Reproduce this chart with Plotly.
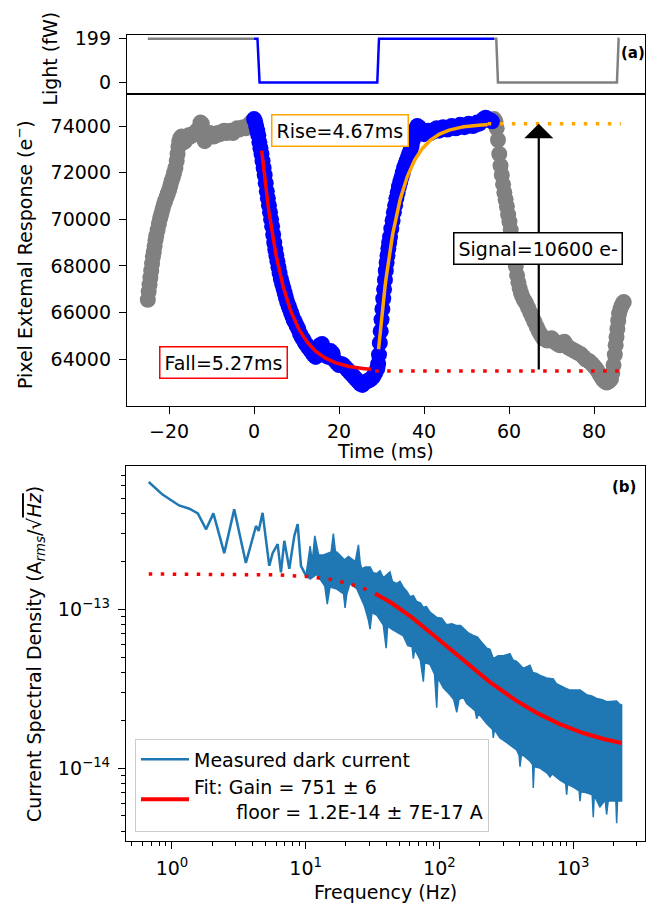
import numpy as np
import plotly.graph_objects as go

# ---------------- panel (a): light pulse ----------------
light_gray1_t = [-25.0, 0.0]
light_gray1_p = [199, 199]
light_blue_t = [0.0, 0.8, 1.3, 29.0, 29.4, 56.5]
light_blue_p = [199, 199, 0, 0, 199, 199]
light_gray2_t = [56.5, 57.0, 57.4, 85.4, 85.8, 86.0]
light_gray2_p = [199, 199, 0, 0, 199, 199]

# ---------------- panel (a): pixel response ----------------
gray_left_t = [-25.0, -24.8, -24.6, -24.4, -24.2, -24.0, -23.8, -23.6, -23.4, -23.2, -23.0,
               -22.7, -22.4, -22.1, -21.8, -21.5, -21.2, -20.9, -20.6, -20.3, -20.0, -19.7,
               -19.4, -19.1, -18.8, -18.5, -18.2, -18.0, -17.8, -17.6, -17.3, -17.0, -16.6,
               -16.2, -15.8, -15.4, -15.0, -14.5, -14.0, -13.5, -13.0, -12.6, -12.3, -12.0,
               -11.6, -11.2, -10.8, -10.4, -10.0, -9.5, -9.0, -8.5, -8.0, -7.5, -7.0, -6.5,
               -6.0, -5.5, -5.0, -4.5, -4.0, -3.5, -3.0, -2.5, -2.0, -1.5, -1.0, -0.5]
gray_left_e = [66550, 66900, 67200, 67500, 67800, 68100, 68400, 68600, 68850, 69100, 69300,
               69550, 69800, 70050, 70250, 70450, 70650, 70800, 70950, 71100, 71250, 71450,
               71650, 71800, 72000, 72200, 72500, 72800, 73100, 73350, 73500, 73550, 73300,
               73350, 73500, 73600, 73550, 73650, 73700, 73800, 73900, 74150, 74100, 73500,
               73350, 73500, 73600, 73700, 73650, 73550, 73600, 73700, 73650, 73750, 73800,
               73700, 73750, 73800, 73700, 73800, 73900, 73850, 73900, 73950, 73900, 74000,
               74100, 74200]

blue_fall_t = [0.0, 0.25, 0.5, 0.75, 1.0, 1.25, 1.5, 1.75, 2.0, 2.25, 2.5, 2.75, 3.0, 3.25,
               3.5, 3.75, 4.0, 4.25, 4.5, 4.75, 5.0, 5.25, 5.5, 5.75, 6.0, 6.3, 6.6, 6.9, 7.2,
               7.5, 7.8, 8.1, 8.4, 8.7, 9.0, 9.3, 9.6, 10.0, 10.4, 10.8, 11.2, 11.6, 12.0, 12.4,
               12.8, 13.2, 13.6, 14.0, 14.5, 15.0, 15.5, 16.0, 16.5, 17.0, 17.5, 18.0, 18.5,
               19.0, 19.5, 20.0, 20.5, 21.0, 21.5, 22.0, 22.5, 23.0, 23.5, 24.0, 24.5, 25.0,
               25.5, 26.0, 26.5, 27.0, 27.5, 28.0, 28.5, 29.0]
blue_fall_e = [74300, 74200, 74000, 73800, 73600, 73300, 73050, 72800, 72500, 72200, 71900,
               71550, 71200, 70900, 70600, 70300, 70000, 69700, 69350, 69000, 68700, 68450,
               68200, 67950, 67700, 67450, 67250, 67050, 66850, 66650, 66450, 66300, 66150,
               66000, 65850, 65700, 65600, 65450, 65300, 65100, 64950, 64850, 64700, 64600,
               64500, 64400, 64300, 64200, 64100, 64300, 64600, 64650, 64400, 64150, 64100,
               64350, 64250, 63950, 63850, 63750, 63800, 63750, 63650, 63550, 63450, 63350,
               63250, 63150, 63050, 62950, 62900, 63000, 63050, 63100, 63150, 63250, 63400,
               63600]

blue_rise_t = [29.2, 29.4, 29.6, 29.8, 30.0, 30.2, 30.4, 30.6, 30.8, 31.0, 31.2, 31.4, 31.6,
               31.8, 32.0, 32.3, 32.6, 32.9, 33.2, 33.5, 33.8, 34.1, 34.4, 34.7, 35.0, 35.3,
               35.6, 35.9, 36.2, 36.5, 36.8, 37.1, 37.4, 37.7, 38.0, 38.4, 38.8, 39.2, 39.6,
               40.0, 40.5, 41.0, 41.5, 42.0, 42.5, 43.0, 43.5, 44.0, 44.5, 45.0, 45.5, 46.0,
               46.5, 47.0, 47.5, 48.0, 48.5, 49.0, 49.5, 50.0, 50.5, 51.0, 51.5, 52.0, 52.5,
               53.0, 53.5, 54.0, 54.5, 55.0, 55.5, 56.0]
blue_rise_e = [63800, 64200, 64700, 65200, 65700, 66150, 66600, 67000, 67400, 67800, 68150,
               68450, 68750, 69000, 69250, 69600, 69950, 70300, 70600, 70900, 71150, 71400,
               71600, 71800, 72000, 72200, 72350, 72500, 72650, 72800, 72950, 73150, 73400,
               73650, 73850, 74000, 73950, 73850, 73700, 73650, 73750, 73800, 73700, 73750,
               73850, 73900, 73800, 73850, 73950, 73900, 73850, 73950, 74000, 73950, 73900,
               73950, 74050, 74000, 73950, 74000, 74100, 74050, 74000, 74050, 74150, 74100,
               74200, 74300, 74350, 74300, 74250, 74200]

gray_right_t = [56.5, 56.8, 57.1, 57.4, 57.7, 58.0, 58.3, 58.6, 58.9, 59.2, 59.5, 59.8, 60.1,
                60.4, 60.7, 61.0, 61.3, 61.6, 61.9, 62.2, 62.5, 62.8, 63.1, 63.5, 64.0, 64.5,
                65.0, 65.5, 66.0, 66.5, 67.0, 67.5, 68.0, 68.5, 69.0, 69.5, 70.0, 70.5, 71.0,
                71.5, 72.0, 72.5, 73.0, 73.5, 74.0, 74.5, 75.0, 75.5, 76.0, 76.5, 77.0, 77.5,
                78.0, 78.5, 79.0, 79.5, 80.0, 80.5, 81.0, 81.5, 82.0, 82.5, 83.0, 83.5, 84.0,
                84.3, 84.6, 84.9, 85.1, 85.3, 85.5, 85.7, 85.9, 86.2, 86.5, 86.8, 87.0]
gray_right_e = [74300, 74200, 73900, 73400, 72800, 72300, 71900, 71500, 71150, 70850, 70550,
                70200, 69900, 69550, 69200, 68850, 68450, 68000, 67600, 67300, 67050, 66850,
                66700, 66550, 66400, 66200, 66000, 65800, 65600, 65400, 65200, 65050, 64900,
                64850, 64800, 64850, 64900, 64800, 64700, 64650, 64600, 64700, 64750, 64600,
                64500, 64450, 64400, 64350, 64300, 64250, 64200, 64100, 64000, 63950, 63900,
                63800, 63700, 63600, 63450, 63300, 63150, 63050, 63000, 63050, 63150, 63400,
                63750, 64200, 64600, 64950, 65300, 65650, 65950, 66150, 66300, 66400, 66450]

# exponential fits (time constants in ms)
tau_fall = 5.27
tau_rise = 4.67
level_dark = 63500
level_light = 74100
fall_t0, fall_t1, fall_amp = 1.8, 27.5, 9440
rise_t0, rise_t1, rise_amp = 29.3, 55.0, 9670
signal = level_light - level_dark

# ---------------- panel (b): current noise spectrum ----------------
psd_line_f = [0.67, 0.85, 1.13, 1.35, 1.56, 1.80, 2.04, 2.46, 2.92, 3.57, 4.25, 4.45, 4.76,
              5.34, 5.66, 6.17, 6.53, 6.92, 7.54, 8.22, 8.71, 9.22, 10.05]
psd_line_v = [6.34e-13, 5.28e-13, 4.51e-13, 4.30e-13, 4.02e-13, 3.19e-13, 4.02e-13, 2.26e-13,
              4.26e-13, 1.96e-13, 3.35e-13, 3.12e-13, 4.05e-13, 1.88e-13, 2.26e-13, 2.57e-13,
              1.71e-13, 2.70e-13, 1.80e-13, 2.90e-13, 3.44e-13, 1.88e-13, 1.63e-13]

# upper and lower edges of the dense part of the spectrum
band_up_f = [10.05, 10.8, 11.2, 11.7, 12.5, 13.6, 15.5, 16.1, 16.7, 17.1, 19.5, 20.9, 23.5,
             24.8, 25.6, 26.2, 28, 30.3, 32, 34.0, 36, 38.1, 42.7, 44.5, 47.9, 50.7, 53.7, 57,
             60.3, 64, 67.6, 72, 75.9, 80, 85.1, 90, 95.5, 104, 113, 124, 135, 144, 153, 165,
             179, 192, 207, 226, 239, 253, 275, 301, 337, 355, 378, 424, 476, 500, 534, 580,
             634, 711, 750, 798, 870, 948, 1127, 1262, 1380, 1500, 1650, 1782, 2118, 2200, 2307]
band_up_v = [1.63e-13, 2.5e-13, 2.0e-13, 2.9e-13, 2.2e-13, 2.2e-13, 2.3e-13, 3.0e-13, 2.3e-13,
             2.3e-13, 2.05e-13, 2.15e-13, 2.0e-13, 2.55e-13, 1.95e-13, 1.8e-13, 1.85e-13,
             1.85e-13, 1.7e-13, 1.68e-13, 1.75e-13, 1.58e-13, 1.72e-13, 1.5e-13, 1.45e-13,
             1.5e-13, 1.38e-13, 1.3e-13, 1.2e-13, 1.22e-13, 1.12e-13, 1.1e-13, 1.03e-13,
             1.04e-13, 9.6e-14, 9.3e-14, 8.9e-14, 8.8e-14, 8.0e-14, 8.1e-14, 7.9e-14, 7.9e-14,
             7.5e-14, 7.1e-14, 6.85e-14, 6.7e-14, 6.2e-14, 5.7e-14, 5.6e-14, 4.9e-14, 5.1e-14,
             5.1e-14, 5.25e-14, 4.8e-14, 4.7e-14, 4.25e-14, 4.45e-14, 4.0e-14, 3.95e-14,
             3.8e-14, 3.7e-14, 3.65e-14, 3.4e-14, 3.3e-14, 3.2e-14, 3.1e-14, 3.1e-14, 2.9e-14,
             2.85e-14, 2.75e-14, 2.7e-14, 2.62e-14, 2.65e-14, 2.55e-14, 2.5e-14]

band_low_f = [10.05, 10.8, 12.1, 13.9, 14.5, 15.2, 17.1, 19.2, 19.7, 20.3, 21.4, 24.1, 27.5,
              29.5, 30.3, 31.3, 34.0, 38.0, 40.0, 41.0, 45.2, 53.7, 58, 62.5, 63.8, 65.5, 72,
              75.9, 77.5, 85.1, 92, 95.5, 97.5, 107, 120, 128, 135, 140, 151, 160, 185, 190,
              197, 226, 250, 253, 258, 284, 318, 378, 395, 401, 410, 424, 480, 498, 504, 512,
              565, 640, 672, 700, 798, 880, 895, 910, 1004, 1110, 1127, 1145, 1262, 1390, 1416,
              1440, 1589, 1740, 1782, 1830, 2000, 2090, 2118, 2150, 2307]
band_low_v = [1.63e-13, 1.55e-13, 1.66e-13, 1.40e-13, 1.08e-13, 1.38e-13, 1.34e-13, 1.25e-13,
              1.02e-13, 1.25e-13, 1.45e-13, 1.35e-13, 1.05e-13, 8.5e-14, 7.5e-14, 9.5e-14,
              9.2e-14, 8.0e-14, 5.7e-14, 7.8e-14, 7.4e-14, 6.8e-14, 5.9e-14, 5.8e-14, 4.9e-14,
              5.6e-14, 4.8e-14, 3.5e-14, 4.6e-14, 4.5e-14, 3.9e-14, 2.4e-14, 3.7e-14, 3.2e-14,
              2.9e-14, 2.7e-14, 2.25e-14, 2.7e-14, 2.8e-14, 2.55e-14, 2.3e-14, 2.05e-14,
              2.2e-14, 1.9e-14, 1.75e-14, 1.55e-14, 1.75e-14, 1.55e-14, 1.45e-14, 1.3e-14,
              1.2e-14, 1.02e-14, 1.2e-14, 1.2e-14, 1.1e-14, 1.05e-14, 7.5e-15, 1.02e-14,
              1.0e-14, 9.3e-15, 8.8e-15, 9.2e-15, 8.4e-15, 8.0e-15, 6.8e-15, 7.9e-15, 7.6e-15,
              7.2e-15, 6.2e-15, 7.1e-15, 7.0e-15, 6.8e-15, 4.9e-15, 6.7e-15, 5.7e-15, 6.3e-15,
              5.1e-15, 6.2e-15, 6.2e-15, 6.2e-15, 4.5e-15, 6.2e-15, 6.2e-15]

# single-pole noise model with white floor
fit_floor = 1.2e-14
fit_amp = 1.55e-13
fit_fc = 35.6
fit_f_start, fit_f_split, fit_f_end = 0.67, 33.0, 2300.0

FONT = "DejaVu Sans"
FS = 19
W, H = 653, 907
BLUE_MPL = "#1f77b4"
DOT = "3.5px,8.5px"


def px_x(p):
    return p / W


def px_y(p):
    return 1 - p / H


fig = go.Figure()

# light trace
for tt, pp, col in [(light_gray1_t, light_gray1_p, "gray"), (light_gray2_t, light_gray2_p, "gray"),
                    (light_blue_t, light_blue_p, "blue")]:
    fig.add_trace(go.Scatter(x=tt, y=pp, mode="lines", line=dict(color=col, width=2.5),
                             xaxis="x", yaxis="y", showlegend=False))

# response points
mk_gray = dict(color="gray", size=16, line=dict(width=0))
mk_blue = dict(color="blue", size=16, line=dict(width=0))
fig.add_trace(go.Scatter(x=gray_left_t, y=gray_left_e, mode="markers", marker=mk_gray,
                         xaxis="x2", yaxis="y2", showlegend=False))
fig.add_trace(go.Scatter(x=gray_right_t, y=gray_right_e, mode="markers", marker=mk_gray,
                         xaxis="x2", yaxis="y2", showlegend=False))
fig.add_trace(go.Scatter(x=blue_fall_t + blue_rise_t, y=blue_fall_e + blue_rise_e, mode="markers",
                         marker=mk_blue, xaxis="x2", yaxis="y2", showlegend=False))

# fits
tf = np.linspace(fall_t0, fall_t1, 120)
fig.add_trace(go.Scatter(x=tf, y=level_dark + fall_amp * np.exp(-(tf - fall_t0) / tau_fall),
                         mode="lines", line=dict(color="red", width=3.5),
                         xaxis="x2", yaxis="y2", showlegend=False))
tr = np.linspace(rise_t0, rise_t1, 120)
fig.add_trace(go.Scatter(x=tr, y=level_light - rise_amp * np.exp(-(tr - rise_t0) / tau_rise),
                         mode="lines", line=dict(color="orange", width=3.5),
                         xaxis="x2", yaxis="y2", showlegend=False))
fig.add_trace(go.Scatter(x=[28.5, 86.3], y=[level_dark, level_dark], mode="lines",
                         line=dict(color="red", width=3.5, dash=DOT),
                         xaxis="x2", yaxis="y2", showlegend=False))
fig.add_trace(go.Scatter(x=[55.0, 86.3], y=[level_light, level_light], mode="lines",
                         line=dict(color="orange", width=3.5, dash=DOT),
                         xaxis="x2", yaxis="y2", showlegend=False))

# spectrum
band_x = band_up_f + band_low_f[::-1]
band_y = band_up_v + band_low_v[::-1]
fig.add_trace(go.Scatter(x=band_x, y=band_y, mode="lines", fill="toself", fillcolor=BLUE_MPL,
                         line=dict(color=BLUE_MPL, width=1.5), xaxis="x3", yaxis="y3",
                         showlegend=False, hoverinfo="skip"))
fig.add_trace(go.Scatter(x=psd_line_f, y=psd_line_v, mode="lines",
                         line=dict(color=BLUE_MPL, width=2.5), name="Measured dark current",
                         xaxis="x3", yaxis="y3"))

ff = np.logspace(np.log10(fit_f_start), np.log10(fit_f_end), 400)
fit_v = fit_floor + fit_amp / np.sqrt(1 + (ff / fit_fc) ** 2)
lo = ff <= fit_f_split
fig.add_trace(go.Scatter(x=ff[lo], y=fit_v[lo], mode="lines",
                         line=dict(color="red", width=3.5, dash=DOT),
                         xaxis="x3", yaxis="y3", showlegend=False))
fig.add_trace(go.Scatter(x=ff[~lo], y=fit_v[~lo], mode="lines", line=dict(color="red", width=4),
                         name="Fit: Gain = 751 ± 6<br>" + "\u00a0" * 7 + "floor = 1.2E-14 ± 7E-17 A",
                         xaxis="x3", yaxis="y3"))

tickfont = dict(family=FONT, size=FS, color="black")
axis_common = dict(showline=True, linecolor="black", linewidth=1.3, mirror=True,
                   ticks="outside", ticklen=7, tickwidth=1.3, tickcolor="black",
                   showgrid=False, zeroline=False, tickfont=tickfont)

xdom = [px_x(127), px_x(645)]
dec = [1, 10, 100, 1000]
minor_x = [m * d for d in [0.1] + dec for m in range(2, 10)]
minor_y = [m * d for d in [1e-15, 1e-14, 1e-13] for m in range(2, 10)]

fig.update_layout(
    width=W, height=H, margin=dict(l=0, r=0, t=0, b=0),
    paper_bgcolor="white", plot_bgcolor="white",
    font=dict(family=FONT, size=FS, color="black"),
    xaxis=dict(axis_common, domain=xdom, anchor="y", range=[-29.9, 92], showticklabels=False,
               ticks=""),
    yaxis=dict(axis_common, domain=[px_y(88), px_y(28)], anchor="x", range=[-54, 217],
               tickvals=[0, 199], ticklabelstandoff=4),
    xaxis2=dict(axis_common, domain=xdom, anchor="y2", range=[-29.9, 92], ticklabelstandoff=1,
                tickvals=[-20, 0, 20, 40, 60, 80], ticktext=["\u221220", "0", "20", "40", "60", "80"]),
    yaxis2=dict(axis_common, domain=[px_y(402), px_y(88)], anchor="x2", range=[62000, 75360],
                tickvals=[64000, 66000, 68000, 70000, 72000, 74000], tickformat="d",
                ticklabelstandoff=4),
    xaxis3=dict(axis_common, domain=[px_x(126), px_x(645)], anchor="y3", type="log",
                range=[-0.344, 3.538], tickvals=dec, ticklabelstandoff=4,
                ticktext=["10<sup>0</sup>", "10<sup>1</sup>", "10<sup>2</sup>", "10<sup>3</sup>"],
                minor=dict(tickvals=minor_x, ticks="outside", ticklen=4, tickwidth=1, tickcolor="black")),
    yaxis3=dict(axis_common, domain=[px_y(840), px_y(463)], anchor="x3", type="log",
                range=[-14.456, -12.1], tickvals=[1e-14, 1e-13], ticklabelstandoff=4,
                ticktext=["10<sup>\u221214</sup>", "10<sup>\u221213</sup>"],
                minor=dict(tickvals=minor_y, ticks="outside", ticklen=4, tickwidth=1, tickcolor="black")),
    legend=dict(x=px_x(135), y=px_y(738), xanchor="left", yanchor="top",
                bgcolor="rgba(255,255,255,0.8)", bordercolor="#cccccc", borderwidth=1,
                font=dict(family=FONT, size=FS, color="black"), valign="middle", itemwidth=48),
)


def title_ann(text, x, y, angle=0, size=FS, bold=False):
    return dict(text=f"<b>{text}</b>" if bold else text, x=px_x(x), y=px_y(y),
                xref="paper", yref="paper", xanchor="center", yanchor="middle",
                textangle=angle, showarrow=False, font=dict(size=size))


ann = [
    title_ann("Light (fW)", 50, 52, -90),
    title_ann("Pixel Extemal Response (e<sup>\u2212</sup>)", 24, 250, -90),
    title_ann("Time (ms)", 386, 447),
    title_ann("Current Spectral Density (A<sub><i>rms</i></sub>/\u221a"
              "<span style='text-decoration:overline'><i>Hz</i></span>)", 36, 652, -90),
    title_ann("Frequency (Hz)", 386, 892),
    title_ann("(a)", 633, 46, size=15, bold=True),
    title_ann("(b)", 624, 484, size=15, bold=True),
]
# signal arrow
ann.append(dict(x=67, y=level_light, ax=67, ay=level_dark, xref="x2", yref="y2",
                axref="x2", ayref="y2", text="", showarrow=True, arrowhead=1, arrowsize=2.2,
                arrowwidth=2.2, arrowcolor="black"))
# labelled boxes
for txt, x, y, col in [(f"Rise={tau_rise:.2f}ms", 20.2, 73830, "orange"),
                       (f"Fall={tau_fall:.2f}ms", -7.1, 63870, "red"),
                       (f"Signal={signal} e-", 66.8, 68770, "black")]:
    ann.append(dict(text=txt, x=x, y=y, xref="x2", yref="y2", xanchor="center", yanchor="middle",
                    showarrow=False, bgcolor="white", bordercolor=col, borderwidth=1.5,
                    borderpad=4, font=dict(size=FS)))
fig.update_layout(annotations=ann)

fig.write_html("out.html")
